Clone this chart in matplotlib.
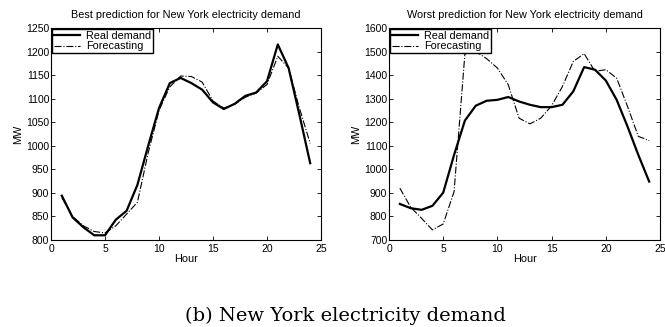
import matplotlib
matplotlib.use("Agg")
import matplotlib.pyplot as plt

HOURS = list(range(1, 25))

BEST_REAL = [894, 848, 827, 810, 810, 843, 862, 917, 1000, 1080, 1133, 1144,
             1133, 1119, 1092, 1078, 1089, 1106, 1113, 1137, 1215, 1165, 1066, 963]
BEST_FORECAST = [890, 850, 830, 818, 815, 830, 855, 880, 985, 1075, 1125, 1148,
                 1147, 1135, 1095, 1080, 1088, 1103, 1112, 1130, 1190, 1165, 1080, 1005]

WORST_REAL = [853, 835, 828, 845, 901, 1061, 1207, 1270, 1291, 1295, 1307, 1288,
              1274, 1264, 1264, 1274, 1331, 1434, 1423, 1377, 1295, 1182, 1061, 948]
WORST_FORECAST = [920, 839, 792, 743, 768, 905, 1490, 1500, 1470, 1430, 1359, 1217,
                  1193, 1217, 1270, 1352, 1458, 1491, 1416, 1423, 1387, 1267, 1140, 1122]

SANS = "Liberation Sans"


def draw_panel(ax, real, forecast, title, ylim, yticks):
    ax.plot(HOURS, real, color="black", lw=1.6, label="Real demand")
    ax.plot(HOURS, forecast, color="black", lw=0.8, ls="-.", label="Forecasting")
    ax.set_xlim(0, 25)
    ax.set_ylim(*ylim)
    ax.set_xticks([0, 5, 10, 15, 20, 25])
    ax.set_yticks(yticks)
    ax.tick_params(direction="in", top=True, right=True, length=3, width=0.6,
                   labelsize=7.5)
    ax.tick_params(axis="x", pad=3)
    ax.tick_params(axis="y", pad=1.2)
    for lab in ax.get_xticklabels() + ax.get_yticklabels():
        lab.set_fontfamily(SANS)
    for s in ax.spines.values():
        s.set_linewidth(0.8)
    ax.set_title(title, fontsize=7.8, family=SANS, pad=7)
    ax.set_xlabel("Hour", fontsize=7.8, family=SANS, labelpad=0)
    ax.set_ylabel("MW", fontsize=7.8, family=SANS, labelpad=2)
    leg = ax.legend(loc="upper left", prop={"family": SANS, "size": 7.8},
                    fancybox=False, framealpha=1, edgecolor="black",
                    borderaxespad=0.12, borderpad=0.15, labelspacing=0.05,
                    handlelength=2.4, handletextpad=0.6)
    leg.get_frame().set_linewidth(1.0)


fig = plt.figure(figsize=(6.65, 3.27), dpi=100)
ax1 = fig.add_axes([0.0767, 0.2661, 0.406, 0.6483])
ax2 = fig.add_axes([0.585, 0.2661, 0.4075, 0.6483])

draw_panel(ax1, BEST_REAL, BEST_FORECAST,
           "Best prediction for New York electricity demand",
           (800, 1250), range(800, 1251, 50))
draw_panel(ax2, WORST_REAL, WORST_FORECAST,
           "Worst prediction for New York electricity demand",
           (700, 1600), range(700, 1601, 100))

fig.text(0.52, 0.034, "(b) New York electricity demand", ha="center", va="center",
         fontsize=14, family="DejaVu Serif")

fig.savefig("out.png", dpi=100)
